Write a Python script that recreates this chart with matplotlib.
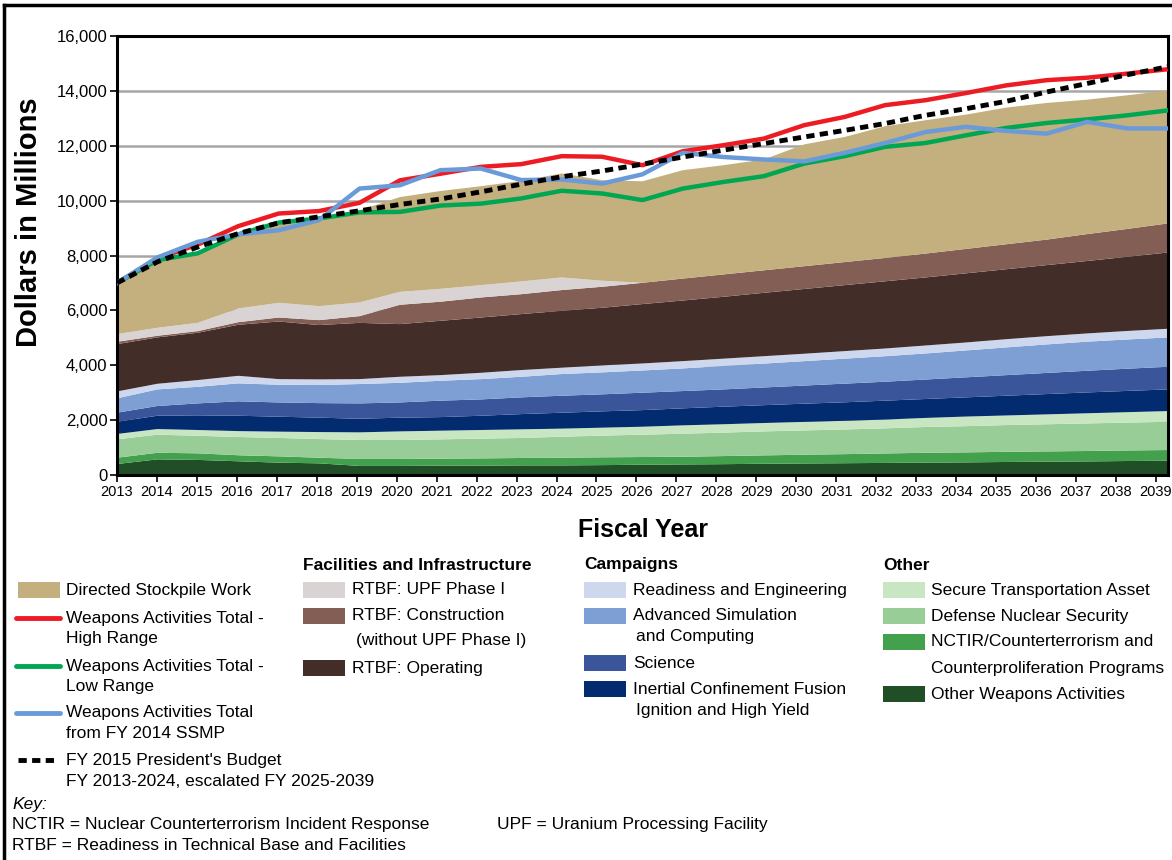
import matplotlib
matplotlib.use("Agg")
import matplotlib.pyplot as plt
from matplotlib.patches import Rectangle
from matplotlib.lines import Line2D
import numpy as np

plt.rcParams['font.family'] = ['Liberation Sans', 'DejaVu Sans']

# Fiscal years
years = list(range(2013, 2040))

# Stacked layers (bottom to top), $ millions
other_weapons = [400, 570, 550, 500, 450, 425, 330, 330, 340, 340, 350, 350, 360, 375, 385, 395, 410, 420, 430, 440, 450, 460, 475, 485, 495, 510, 520]
nctir = [230, 240, 240, 220, 230, 205, 255, 255, 255, 265, 270, 280, 285, 280, 280, 295, 305, 320, 330, 345, 360, 365, 370, 375, 380, 385, 390]
defense_nuclear_security = [670, 660, 640, 665, 670, 680, 690, 690, 705, 720, 730, 765, 790, 815, 840, 855, 875, 885, 900, 915, 940, 955, 975, 990, 1005, 1015, 1030]
secure_transport = [195, 205, 210, 215, 230, 255, 280, 315, 315, 315, 315, 295, 290, 290, 305, 305, 305, 310, 315, 320, 330, 350, 350, 360, 370, 380, 390]
icf = [445, 485, 535, 560, 545, 525, 495, 500, 495, 520, 555, 580, 595, 605, 620, 640, 650, 665, 675, 690, 690, 700, 720, 740, 760, 775, 790]
science = [330, 355, 435, 525, 520, 530, 560, 555, 600, 595, 610, 620, 620, 635, 630, 630, 645, 660, 680, 690, 710, 730, 750, 770, 790, 810, 825]
asc = [525, 605, 605, 655, 645, 660, 705, 715, 725, 740, 750, 790, 800, 810, 825, 855, 870, 890, 910, 930, 950, 980, 1010, 1040, 1060, 1065, 1070]
readiness_eng = [250, 205, 245, 275, 205, 205, 180, 220, 205, 230, 245, 230, 255, 255, 265, 265, 270, 270, 275, 280, 290, 290, 300, 300, 300, 310, 315]
rtbf_operating = [1725, 1690, 1725, 1860, 2100, 1980, 2050, 1920, 1980, 2015, 2040, 2075, 2100, 2165, 2210, 2255, 2310, 2360, 2405, 2450, 2480, 2520, 2550, 2590, 2640, 2705, 2780]
rtbf_construction = [85, 60, 60, 95, 145, 180, 245, 705, 695, 730, 725, 755, 765, 775, 800, 815, 820, 830, 840, 850, 870, 890, 910, 930, 980, 1015, 1060]
rtbf_upf = [280, 290, 300, 500, 535, 510, 500, 470, 470, 450, 465, 460, 220, 0, 0, 0, 0, 0, 0, 0, 0, 0, 0, 0, 0, 0, 0]
dsw = [1845, 2435, 2555, 2710, 2905, 3215, 3360, 3455, 3565, 3605, 3665, 3790, 3665, 3700, 3950, 3980, 4040, 4440, 4560, 4800, 4860, 4895, 4980, 4980, 4900, 4870, 4850]

# Totals (lines)
high_range = [7000, 7890, 8400, 9070, 9530, 9620, 9920, 10740, 10980, 11230, 11330, 11620, 11600, 11290, 11800, 12020, 12260, 12750, 13050, 13480, 13660, 13920, 14200, 14390, 14480, 14630, 14790]
low_range = [7000, 7830, 8080, 8770, 9200, 9350, 9570, 9590, 9820, 9890, 10080, 10360, 10260, 10020, 10440, 10680, 10890, 11350, 11620, 11960, 12100, 12380, 12650, 12830, 12960, 13110, 13290]
ssmp_2014 = [7000, 7930, 8500, 8770, 8920, 9290, 10440, 10560, 11110, 11170, 10750, 10770, 10620, 10960, 11740, 11590, 11500, 11430, 11740, 12100, 12500, 12690, 12540, 12440, 12870, 12630, 12630]
pres_budget = [7000, 7770, 8310, 8800, 9190, 9410, 9630, 9860, 10060, 10320, 10600, 10870, 11080, 11330, 11590, 11840, 12080, 12320, 12560, 12810, 13110, 13350, 13620, 13960, 14270, 14590, 14880]

layers = [other_weapons, nctir, defense_nuclear_security, secure_transport, icf, science,
          asc, readiness_eng, rtbf_operating, rtbf_construction, rtbf_upf, dsw]
layer_colors = ['#1f4e27', '#43a04c', '#98cd98', '#c9e6c3', '#032b6f', '#3a5599',
                '#7d9fd3', '#cdd8ee', '#432d29', '#835e55', '#d9d4d3', '#c4b07f']

W, H = 1172, 860
fig = plt.figure(figsize=(W / 100, H / 100), dpi=100)
ax = fig.add_axes([117 / W, 1 - 475 / H, (1168 - 117) / W, (475 - 36) / H])

ax.stackplot(years, *layers, colors=layer_colors, linewidth=0)
ax.plot(years, high_range, color='#ed1c24', lw=3.2, zorder=3)
ax.plot(years, low_range, color='#00a651', lw=3.2, zorder=3)
ax.plot(years, ssmp_2014, color='#6a9bd8', lw=3.2, zorder=4)
ax.plot(years, pres_budget, color='black', lw=3.5, linestyle=(0, (1.7, 1.1)),
        dash_capstyle='butt', zorder=5)

ax.set_xlim(2013, 2039)
ax.set_ylim(0, 16000)
# in the original the tick marks sit slightly tighter than the data points
tick_pos = np.linspace(2013, 2038.7, len(years))
ax.set_xticks(tick_pos)
ax.set_xticklabels([str(y) for y in years], fontsize=10.5)
ax.set_yticks(range(0, 16001, 2000))
ax.set_yticklabels([f'{v:,}' for v in range(0, 16001, 2000)], fontsize=12)
ax.tick_params(axis='both', direction='out', length=5, width=1.2, color='black', pad=2)
ax.grid(True, axis='y', color='#a6a6a6', lw=1.8)
ax.set_axisbelow(True)
for s in ax.spines.values():
    s.set_linewidth(2.2)
    s.set_color('black')

ax.set_ylabel('Dollars in Millions', fontsize=21, fontweight='bold')
ax.yaxis.set_label_coords(-0.07, 0.575)
ax.set_xlabel('Fiscal Year', fontsize=18, fontweight='bold', labelpad=14)

# figure border (top and left)
fig.add_artist(Line2D([4 / W, 4 / W], [0, 1 - 5 / H], transform=fig.transFigure, color='black', lw=2.5))
fig.add_artist(Line2D([4 / W, 1], [1 - 5 / H, 1 - 5 / H], transform=fig.transFigure, color='black', lw=2.5))


def fx(px):
    return px / W


def fy(py):
    return 1 - py / H


def patch(x, y, color):
    fig.add_artist(Rectangle((fx(x), fy(y + 8)), 42 / W, 16 / H, transform=fig.transFigure,
                             facecolor=color, edgecolor='none'))


def label(x, y, s, **kw):
    fig.text(fx(x), fy(y), s, fontsize=12.5, va='center', ha='left', **kw)


# column 1
patch(18, 590, '#c4b07f')
label(66, 590, 'Directed Stockpile Work')
for yy, col, t1, t2 in [(618, '#ed1c24', 'Weapons Activities Total -', 'High Range'),
                        (666, '#00a651', 'Weapons Activities Total -', 'Low Range'),
                        (713, '#6a9bd8', 'Weapons Activities Total', 'from FY 2014 SSMP')]:
    fig.add_artist(Line2D([fx(16), fx(60)], [fy(yy), fy(yy)], transform=fig.transFigure,
                          color=col, lw=3.5, solid_capstyle='round'))
    label(66, yy, t1)
    label(66, yy + 21, t2)
fig.add_artist(Line2D([fx(18), fx(56)], [fy(760), fy(760)], transform=fig.transFigure,
                      color='black', lw=3.5, linestyle=(0, (1.7, 1.1)), dash_capstyle='butt'))
label(66, 760, "FY 2015 President's Budget")
label(66, 781, 'FY 2013-2024, escalated FY 2025-2039')

# column 2
label(303, 565, 'Facilities and Infrastructure', fontweight='bold')
patch(303, 590, '#d9d4d3')
label(352, 590, 'RTBF: UPF Phase I')
patch(303, 616, '#835e55')
label(352, 616, 'RTBF: Construction')
label(356, 641, '(without UPF Phase I)')
patch(303, 668, '#432d29')
label(352, 668, 'RTBF: Operating')

# column 3
label(584, 565, 'Campaigns', fontweight='bold')
patch(584, 590, '#cdd8ee')
label(633, 590, 'Readiness and Engineering')
patch(584, 616, '#7d9fd3')
label(633, 616, 'Advanced Simulation')
label(636, 637, 'and Computing')
patch(584, 663, '#3a5599')
label(633, 663, 'Science')
patch(584, 689, '#032b6f')
label(633, 689, 'Inertial Confinement Fusion')
label(636, 711, 'Ignition and High Yield')

# column 4
label(883, 565, 'Other', fontweight='bold')
patch(883, 590, '#c9e6c3')
label(931, 590, 'Secure Transportation Asset')
patch(883, 616, '#98cd98')
label(931, 616, 'Defense Nuclear Security')
patch(883, 642, '#43a04c')
label(931, 642, 'NCTIR/Counterterrorism and')
label(931, 668, 'Counterproliferation Programs')
patch(883, 694, '#1f4e27')
label(931, 694, 'Other Weapons Activities')

# key
label(12, 804, 'Key:', style='italic')
label(12, 825, 'NCTIR = Nuclear Counterterrorism Incident Response')
label(497, 825, 'UPF = Uranium Processing Facility')
label(12, 846, 'RTBF = Readiness in Technical Base and Facilities')

fig.savefig('out.png', dpi=100)
